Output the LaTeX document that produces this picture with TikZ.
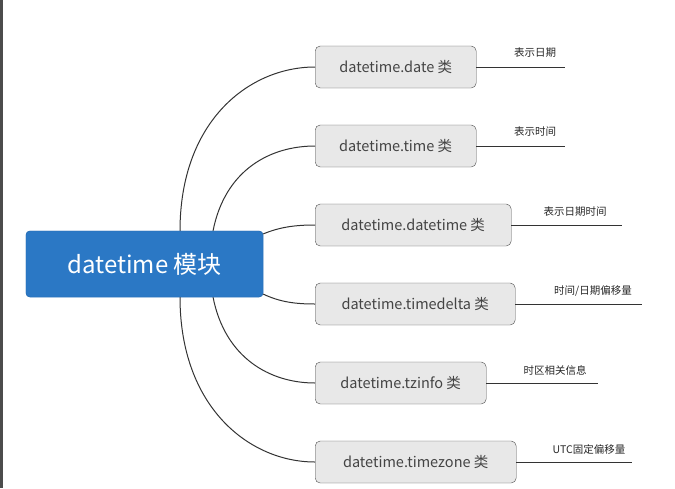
\documentclass[tikz,border=0pt]{standalone}
\usepackage{fontspec}
\setmainfont{Noto Sans CJK SC}
\definecolor{rootblue}{HTML}{2B78C5}
\definecolor{childfill}{HTML}{E8E8E8}
\definecolor{childtxt}{HTML}{444444}
\begin{document}
\begin{tikzpicture}[x=1pt,y=-1pt,
  rootbox/.style={draw=rootblue!90!black,fill=rootblue,rounded corners=4pt,minimum width=237pt,minimum height=66pt,text=white,font=\fontsize{24}{26}\selectfont,inner sep=0pt},
  childbox/.style={draw=black!70,fill=childfill,rounded corners=5pt,minimum height=42pt,anchor=west,text=childtxt,font=\fontsize{14.5}{16}\selectfont,inner sep=0pt},
  conn/.style={draw=black!80,line width=1pt},
  lbl/.style={font=\fontsize{10.5}{12}\selectfont,text=black!85,inner sep=0pt}]
\useasboundingbox (0,0) rectangle (675,488);
\fill[black!70] (0,0) rectangle (3,488);
\node[rootbox] (root) at (144.5,264) {datetime 模块};
\node[childbox,minimum width=161pt] (c1) at (315,67) {datetime.date 类};
\node[childbox,minimum width=161pt] (c2) at (315,146) {datetime.time 类};
\node[childbox,minimum width=196pt] (c3) at (315,225) {datetime.datetime 类};
\node[childbox,minimum width=200pt] (c4) at (315,304) {datetime.timedelta 类};
\node[childbox,minimum width=171pt] (c5) at (315,383) {datetime.tzinfo 类};
\node[childbox,minimum width=201pt] (c6) at (315,462) {datetime.timezone 类};
\coordinate (e1) at (565,67);
\coordinate (e2) at (565,146);
\coordinate (e3) at (622,225);
\coordinate (e4) at (642,304);
\coordinate (e5) at (598,383);
\coordinate (e6) at (632,462);
\foreach \i in {1,...,6}{\draw[conn] (c\i.east) -- (e\i);}
\node[lbl] (l1) at (535,53) {表示日期};
\node[lbl] (l2) at (535,132) {表示时间};
\node[lbl] (l3) at (575,212) {表示日期时间};
\node[lbl] (l4) at (593,291) {时间/日期偏移量};
\node[lbl] (l5) at (555,370) {时区相关信息};
\node[lbl] (l6) at (589,449) {UTC固定偏移量};
\begin{scope}[on background layer/.try]
\end{scope}
\draw[conn] (180,231) .. controls (180,120) and (250,67) .. (c1.west);
\draw[conn] (213,231) .. controls (225,170) and (270,146) .. (c2.west);
\draw[conn] (263,234) .. controls (280,227) and (295,225) .. (c3.west);
\draw[conn] (263,294) .. controls (280,302) and (295,304) .. (c4.west);
\draw[conn] (213,297) .. controls (225,358) and (270,383) .. (c5.west);
\draw[conn] (180,297) .. controls (180,408) and (250,462) .. (c6.west);
\node[rootbox] at (root) {datetime 模块};
\end{tikzpicture}
\end{document}
